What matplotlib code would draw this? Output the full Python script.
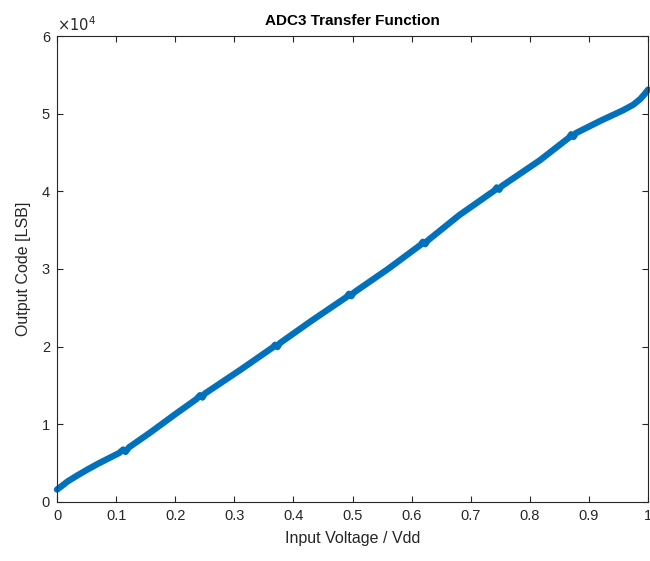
import matplotlib
matplotlib.use("Agg")
import matplotlib.pyplot as plt

plt.rcParams['font.family'] = ['Liberation Sans', 'DejaVu Sans']

# Measured transfer curve: normalised input voltage vs output code
vin = [0.000, 0.008, 0.018, 0.034, 0.052, 0.070, 0.105,
       0.112, 0.116, 0.122,
       0.157, 0.200, 0.236,
       0.242, 0.246, 0.250,
       0.310, 0.365,
       0.369, 0.373, 0.377,
       0.430, 0.490,
       0.494, 0.498, 0.502,
       0.560, 0.615,
       0.619, 0.623, 0.627,
       0.680, 0.740,
       0.744, 0.748, 0.752,
       0.817, 0.866,
       0.870, 0.874, 0.878,
       0.920, 0.958, 0.975, 0.987, 0.995, 1.000]
code = [1600, 2050, 2650, 3400, 4200, 4950, 6300,
        6750, 6450, 7050,
        8900, 11300, 13250,
        13750, 13450, 13950,
        17000, 19900,
        20250, 19950, 20450,
        23300, 26400,
        26800, 26500, 26950,
        30000, 33100,
        33500, 33200, 33650,
        36900, 40100,
        40500, 40200, 40650,
        44000, 46900,
        47350, 47000, 47500,
        49100, 50450, 51150, 51900, 52600, 53100]

xticks = [0, 0.1, 0.2, 0.3, 0.4, 0.5, 0.6, 0.7, 0.8, 0.9, 1]
xticklabels = ['0', '0.1', '0.2', '0.3', '0.4', '0.5', '0.6', '0.7', '0.8', '0.9', '1']
yticks = [0, 10000, 20000, 30000, 40000, 50000, 60000]
yticklabels = ['0', '1', '2', '3', '4', '5', '6']

axis_col = '#262626'
line_col = '#0072BD'

fig = plt.figure(figsize=(6.5, 5.61), dpi=100)
ax = fig.add_axes([0.0877, 0.1052, 0.9093, 0.8306])

ax.plot(vin, code, color=line_col, lw=4.6, solid_capstyle='round',
        solid_joinstyle='round', clip_on=False)

ax.set_xlim(0, 1)
ax.set_ylim(0, 60000)
ax.set_xticks(xticks)
ax.set_xticklabels(xticklabels)
ax.set_yticks(yticks)
ax.set_yticklabels(yticklabels)

ax.tick_params(direction='in', length=4, width=0.8, colors=axis_col,
               labelsize=10.5, top=True, right=True, pad=5)
for s in ax.spines.values():
    s.set_color(axis_col)
    s.set_linewidth(0.8)

ax.set_title('ADC3 Transfer Function', fontsize=11, fontweight='bold',
             color='black', pad=8)
ax.set_xlabel('Input Voltage / Vdd', fontsize=11.5, color=axis_col, labelpad=6)
ax.set_ylabel('Output Code [LSB]', fontsize=11.5, color=axis_col, labelpad=8)

ax.text(0.0, 1.005, r'$\times10^4$', transform=ax.transAxes, fontsize=10.5,
        color=axis_col, ha='left', va='bottom',
        fontfamily='Liberation Sans')

fig.savefig('out.png', dpi=100)
